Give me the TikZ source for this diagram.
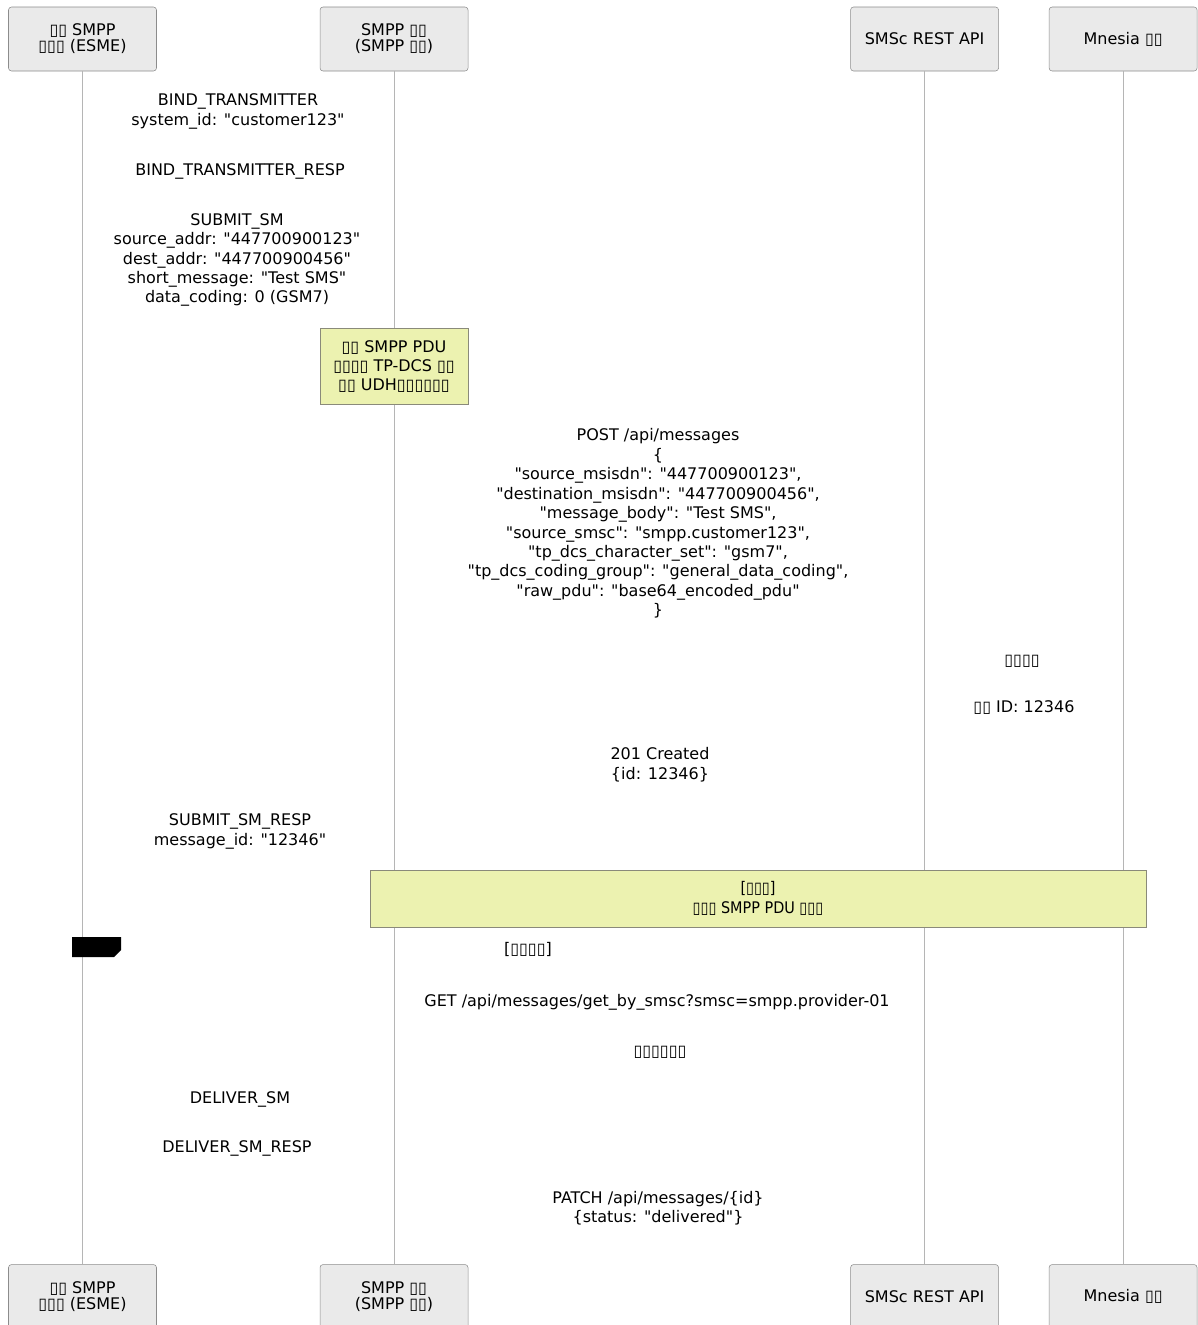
\documentclass[tikz,border=0pt]{standalone}
\usepackage{fontspec}
\setmainfont{DejaVu Sans}[Ligatures=TeXOff]
\newfontfamily\narrowfont{DejaVu Sans}[FakeStretch=0.9,Ligatures=TeXOff]
\usetikzlibrary{positioning}
\newcommand{\tf}{▯}
\definecolor{actorfill}{HTML}{EAEAEA}
\definecolor{actorline}{HTML}{8C8C8C}
\definecolor{lifeline}{HTML}{B5B5B5}
\definecolor{notefill}{HTML}{ECF2B0}
\definecolor{noteline}{HTML}{8A8A7A}
\tikzstyle{actor}=[draw=actorline,fill=actorfill,rounded corners=2.25pt,minimum width=111pt,minimum height=48pt,inner sep=0pt,align=center,font=\fontsize{12}{12}\selectfont]
\tikzstyle{msg}=[inner sep=0pt,align=center,font=\fontsize{12}{14.6}\selectfont]
\tikzstyle{note}=[draw=noteline,fill=notefill,inner sep=0pt,align=center,font=\fontsize{12}{14.3}\selectfont]
\tikzstyle{life}=[draw=lifeline,line width=0.75pt]
\begin{document}
\begin{tikzpicture}[x=0.75pt,y=-0.75pt]
    \useasboundingbox (0,0) rectangle (1198,1325);

    % participants, top row
    \node[actor] (esme) at (82.5,39) {\tf\tf{} SMPP\\\tf\tf\tf{} (ESME)};
    \node[actor] (gw) [right=122.25pt of esme] {SMPP \tf\tf\\(SMPP \tf\tf)};
    \node[actor] (api) [right=286.5pt of gw] {SMSc REST API};
    \node[actor] (db) [right=37.5pt of api] {Mnesia \tf\tf};
    % participants, bottom row
    \node[actor] (esmeB) [below=894.75pt of esme] {\tf\tf{} SMPP\\\tf\tf\tf{} (ESME)};
    \node[actor] (gwB) [below=894.75pt of gw] {SMPP \tf\tf\\(SMPP \tf\tf)};
    \node[actor] (apiB) [below=894.75pt of api] {SMSc REST API};
    \node[actor] (dbB) [below=894.75pt of db] {Mnesia \tf\tf};

    \path[life] (esme) -- (esmeB);
    \path[life] (gw) -- (gwB);
    \path[life] (api) -- (apiB);
    \path[life] (db) -- (dbB);

    % messages
    \node[msg] (bind) at (238,111.5) {BIND\_TRANSMITTER\\system\_id: "customer123"};
    \node[msg] (bindresp) at (240,171.5) {BIND\_TRANSMITTER\_RESP};
    \node[msg] (submit) at (237,260) {SUBMIT\_SM\\source\_addr: "447700900123"\\dest\_addr: "447700900456"\\short\_message: "Test SMS"\\data\_coding: 0 (GSM7)};
    \node[note,minimum width=111pt,minimum height=57pt] (parse) at (394,366.5) {\tf\tf{} SMPP PDU\\\tf\tf\tf\tf{} TP-DCS \tf\tf\\\tf\tf{} UDH\tf\tf\tf\tf\tf\tf};
    \node[msg] (post) at (658,523.5) {POST /api/messages\\\{\\"source\_msisdn": "447700900123",\\"destination\_msisdn": "447700900456",\\"message\_body": "Test SMS",\\"source\_smsc": "smpp.customer123",\\"tp\_dcs\_character\_set": "gsm7",\\"tp\_dcs\_coding\_group": "general\_data\_coding",\\"raw\_pdu": "base64\_encoded\_pdu"\\\}};
    \node[msg] (store) at (1022,661.5) {\tf\tf\tf\tf};
    \node[msg] (retid) at (1024,707.5) {\tf\tf{} ID: 12346};
    \node[msg] (created) at (660,764.5) {201 Created\\\{id: 12346\}};
    \node[msg] (submitresp) at (240,831.5) {SUBMIT\_SM\_RESP\\message\_id: "12346"};
    \node[note,minimum width=582pt,minimum height=42.75pt,font=\narrowfont\fontsize{12}{15}\selectfont] (poll) at (758,898.5) {[\tf\tf\tf]\\\tf\tf\tf{} SMPP PDU \tf\tf\tf};

    % loop
    \fill (72,937) -- (121,937) -- (121,950) -- (114,957) -- (72,957) -- cycle;
    \node[msg] (loopname) at (528,949.5) {[\tf\tf\tf\tf]};
    \node[msg] (get) at (657,1002.5) {GET /api/messages/get\_by\_smsc?smsc=smpp.provider-01};
    \node[msg] (pending) at (660,1052.5) {\tf\tf\tf\tf\tf\tf};
    \node[msg] (deliver) at (240,1099.5) {DELIVER\_SM};
    \node[msg] (deliverresp) at (237,1148.5) {DELIVER\_SM\_RESP};
    \node[msg] (patch) at (658,1208) {PATCH /api/messages/\{id\}\\\{status: "delivered"\}};
\end{tikzpicture}
\end{document}
